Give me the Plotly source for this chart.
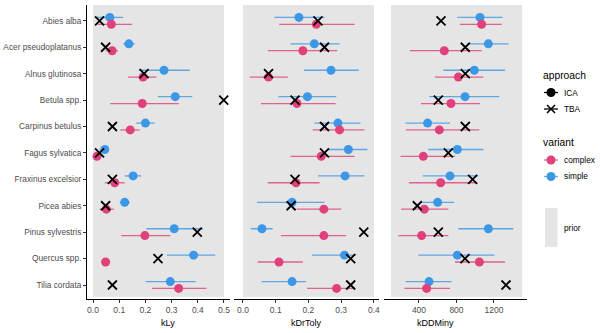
import plotly.graph_objects as go

###############################################################################
#                                 Datos                                       #
###############################################################################

species = ["Abies alba", "Acer pseudoplatanus", "Alnus glutinosa", "Betula spp.",
           "Carpinus betulus", "Fagus sylvatica", "Fraxinus excelsior", "Picea abies",
           "Pinus sylvestris", "Quercus spp.", "Tilia cordata"]

params = ["kLy", "kDrToly", "kDDMiny"]

# kLy
kly_simple = [0.064, 0.137, 0.271, 0.314, 0.200, 0.045, 0.153, 0.121, 0.310, 0.384, 0.295]
kly_simple_lo = [0.013, 0.115, 0.176, 0.248, 0.165, 0.025, 0.121, 0.102, 0.204, 0.282, 0.201]
kly_simple_hi = [0.115, 0.159, 0.369, 0.379, 0.235, 0.057, 0.184, 0.140, 0.420, 0.467, 0.392]
kly_complex = [0.070, 0.073, 0.191, 0.188, 0.142, 0.015, 0.083, 0.051, 0.198, 0.048, 0.327]
kly_complex_lo = [0.019, 0.048, 0.134, 0.066, 0.104, 0.004, 0.045, 0.025, 0.108, 0.035, 0.225]
kly_complex_hi = [0.149, 0.095, 0.242, 0.328, 0.178, 0.028, 0.121, 0.079, 0.295, 0.062, 0.433]
kly_tba = [0.025, 0.048, 0.195, 0.499, 0.074, 0.025, 0.074, 0.048, 0.398, 0.248, 0.074]

# kDrToly
kdr_simple = [0.171, 0.218, 0.269, 0.197, 0.290, 0.322, 0.312, 0.150, 0.058, 0.310, 0.150]
kdr_simple_lo = [0.096, 0.145, 0.186, 0.108, 0.218, 0.259, 0.229, 0.043, 0.024, 0.211, 0.057]
kdr_simple_hi = [0.249, 0.295, 0.354, 0.285, 0.359, 0.380, 0.371, 0.249, 0.091, 0.346, 0.193]
kdr_complex = [0.224, 0.183, 0.078, 0.165, 0.295, 0.239, 0.162, 0.247, 0.247, 0.110, 0.286]
kdr_complex_lo = [0.111, 0.076, 0.021, 0.055, 0.213, 0.145, 0.076, 0.164, 0.116, 0.045, 0.196]
kdr_complex_hi = [0.341, 0.288, 0.137, 0.283, 0.371, 0.341, 0.234, 0.300, 0.315, 0.183, 0.341]
kdr_tba = [0.229, 0.249, 0.078, 0.159, 0.249, 0.249, 0.159, 0.147, 0.369, 0.329, 0.329]

# kDDMiny
kdd_simple = [1051, 1140, 990, 891, 492, 809, 731, 599, 1140, 809, 507]
kdd_simple_lo = [809, 944, 660, 510, 258, 500, 439, 428, 820, 393, 258]
kdd_simple_hi = [1292, 1356, 1317, 1257, 731, 1086, 1033, 773, 1406, 1204, 748]
kdd_complex = [1068, 670, 820, 741, 617, 446, 631, 457, 428, 1044, 482]
kdd_complex_lo = [837, 304, 571, 421, 261, 204, 293, 208, 180, 784, 244]
kdd_complex_hi = [1282, 1068, 1086, 1051, 1044, 784, 1015, 713, 713, 1317, 731]
kdd_tba = [635, 894, 894, 606, 894, 713, 972, 382, 606, 891, 1328]

# rango del prior
prior_lo = [0, 0, 100]
prior_hi = [0.5, 0.4, 1500]

###############################################################################
#                                Estilo                                       #
###############################################################################

FONT = "Liberation Sans"
RED = "#E0407B"
BLUE = "#3C97E6"
RED_LINE = "rgba(224,64,123,0.8)"
BLUE_LINE = "rgba(60,151,230,0.8)"
PRIOR_GREY = "#E5E5E5"
DODGE = 0.13

panels = [
    dict(simple=kly_simple, slo=kly_simple_lo, shi=kly_simple_hi,
         complex=kly_complex, clo=kly_complex_lo, chi=kly_complex_hi, tba=kly_tba),
    dict(simple=kdr_simple, slo=kdr_simple_lo, shi=kdr_simple_hi,
         complex=kdr_complex, clo=kdr_complex_lo, chi=kdr_complex_hi, tba=kdr_tba),
    dict(simple=kdd_simple, slo=kdd_simple_lo, shi=kdd_simple_hi,
         complex=kdd_complex, clo=kdd_complex_lo, chi=kdd_complex_hi, tba=kdd_tba),
]

domains = [[0.0, 0.325], [0.334, 0.664], [0.675, 1.0]]
xranges = [[-0.023, 0.523], [-0.0275, 0.416], [27, 1552]]
tickvals = [[0, 0.1, 0.2, 0.3, 0.4, 0.5], [0, 0.1, 0.2, 0.3, 0.4], [400, 800, 1200]]
ticktext = [["0.0", "0.1", "0.2", "0.3", "0.4", "0.5"],
            ["0.0", "0.1", "0.2", "0.3", "0.4"], ["400", "800", "1200"]]

ypos = list(range(len(species)))

fig = go.Figure()

for i, p in enumerate(panels):
    xa = "x" if i == 0 else f"x{i + 1}"

    # simple (arriba)
    fig.add_trace(go.Scatter(
        x=p["simple"], y=[y - DODGE for y in ypos],
        mode="markers", xaxis=xa, yaxis="y",
        marker=dict(color=BLUE, size=9),
        error_x=dict(type="data", symmetric=False,
                     array=[h - m for h, m in zip(p["shi"], p["simple"])],
                     arrayminus=[m - l for m, l in zip(p["simple"], p["slo"])],
                     color=BLUE_LINE, thickness=1.3, width=0),
        showlegend=False, hoverinfo="skip"))

    # complex (abajo)
    fig.add_trace(go.Scatter(
        x=p["complex"], y=[y + DODGE for y in ypos],
        mode="markers", xaxis=xa, yaxis="y",
        marker=dict(color=RED, size=9),
        error_x=dict(type="data", symmetric=False,
                     array=[h - m for h, m in zip(p["chi"], p["complex"])],
                     arrayminus=[m - l for m, l in zip(p["complex"], p["clo"])],
                     color=RED_LINE, thickness=1.3, width=0),
        showlegend=False, hoverinfo="skip"))

    # TBA
    fig.add_trace(go.Scatter(
        x=p["tba"], y=ypos, mode="markers", xaxis=xa, yaxis="y",
        marker=dict(symbol="x-thin", size=9, color="black",
                    line=dict(color="black", width=1.8)),
        showlegend=False, hoverinfo="skip"))

    # prior
    fig.add_shape(type="rect", xref=xa, yref="paper",
                  x0=prior_lo[i], x1=prior_hi[i], y0=0.007, y1=1,
                  fillcolor=PRIOR_GREY, line_width=0, layer="below")

    # título del eje
    fig.add_annotation(x=sum(domains[i]) / 2, y=-0.083, xref="paper", yref="paper",
                       text=params[i], showarrow=False, yanchor="middle",
                       font=dict(family=FONT, size=9, color="black"))

###############################################################################
#                                 Ejes                                        #
###############################################################################

layout_axes = {}
for i in range(3):
    key = "xaxis" if i == 0 else f"xaxis{i + 1}"
    layout_axes[key] = dict(
        domain=domains[i], range=xranges[i], anchor="y" if i == 0 else "free",
        position=0, showgrid=False, zeroline=False,
        showline=True, linecolor="black", linewidth=1,
        ticks="outside", ticklen=3, tickcolor="#333333",
        tickvals=tickvals[i], ticktext=ticktext[i],
        tickfont=dict(family=FONT, size=8.5, color="#4D4D4D"))

fig.update_layout(
    **layout_axes,
    yaxis=dict(range=[10.53, -0.6], tickvals=ypos, ticktext=species,
               showgrid=False, zeroline=False,
               showline=True, linecolor="black", linewidth=1,
               ticks="outside", ticklen=3, tickcolor="#333333",
               tickfont=dict(family=FONT, size=8.3, color="#4D4D4D")),
    width=600, height=333,
    margin=dict(l=87, r=73, t=5, b=34, autoexpand=False),
    plot_bgcolor="white", paper_bgcolor="white",
    showlegend=False,
    font=dict(family=FONT),
)

###############################################################################
#                    Leyenda hecha a mano (en píxeles)                        #
###############################################################################

L, R, T, B = 87, 527, 5, 299


def px(xp):
    return (xp - L) / (R - L)


def py(yp):
    return (B - yp) / (B - T)


def legend_text(text, xp, yp, size):
    fig.add_annotation(x=px(xp), y=py(yp), xref="paper", yref="paper",
                       text=text, showarrow=False, xanchor="left", yanchor="middle",
                       borderpad=0, font=dict(family=FONT, size=size, color="black"))


def key_line(yp, color):
    fig.add_shape(type="line", xref="paper", yref="paper",
                  x0=px(544), x1=px(558), y0=py(yp), y1=py(yp),
                  line=dict(color=color, width=1.3))


def key_dot(yp, color):
    r = 4.5
    fig.add_shape(type="circle", xref="paper", yref="paper",
                  x0=px(551 - r), x1=px(551 + r), y0=py(yp + r), y1=py(yp - r),
                  fillcolor=color, line_width=0)


legend_text("approach", 542, 75, 10.3)
key_line(92.5, "black")
key_dot(92.5, "black")
legend_text("ICA", 563, 92.5, 8.3)
key_line(109, "black")
for a, b in [(-4, 4), (4, -4)]:
    fig.add_shape(type="line", xref="paper", yref="paper",
                  x0=px(551 - 4), x1=px(551 + 4), y0=py(109 + a), y1=py(109 + b),
                  line=dict(color="black", width=1.6))
legend_text("TBA", 563, 109, 8.3)

legend_text("variant", 542, 142, 10.3)
key_line(160, RED_LINE)
key_dot(160, RED)
legend_text("complex", 563, 160, 8.3)
key_line(176.5, BLUE_LINE)
key_dot(176.5, BLUE)
legend_text("simple", 563, 176.5, 8.3)

fig.add_shape(type="rect", xref="paper", yref="paper",
              x0=px(545), x1=px(557.5), y0=py(247), y1=py(208),
              fillcolor=PRIOR_GREY, line_width=0)
legend_text("prior", 563, 228, 8.3)

# quitar el margen por defecto del body para que la figura quede en (0, 0)
fig.write_html("out.html", config={"displayModeBar": False},
               post_script="document.body.style.margin='0';")
